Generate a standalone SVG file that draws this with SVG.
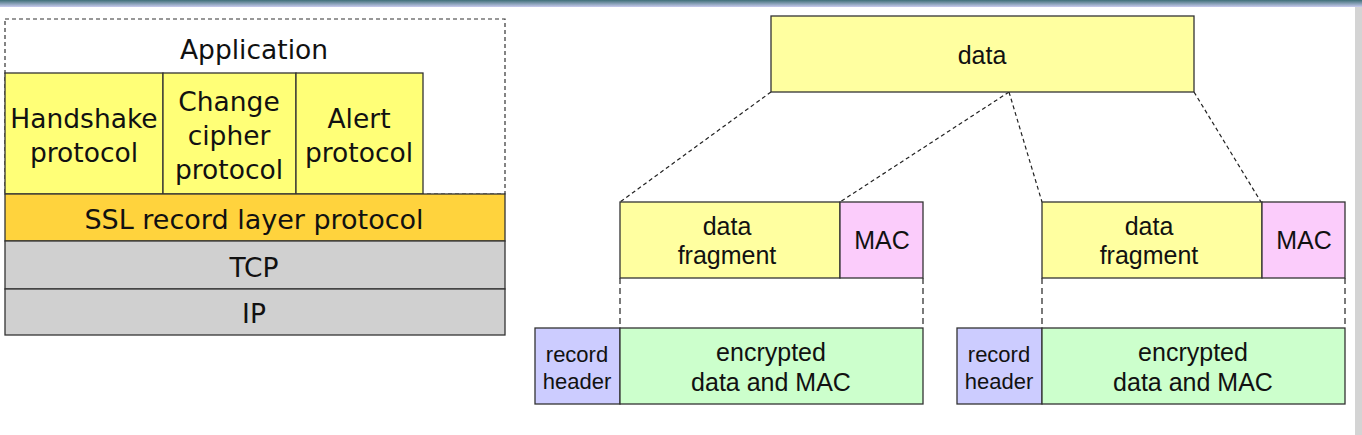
<svg xmlns="http://www.w3.org/2000/svg" width="1362" height="435" viewBox="0 0 1362 435">
<defs>
<linearGradient id="topbar" x1="0" y1="0" x2="0" y2="1">
<stop offset="0" stop-color="#3f6f78"/>
<stop offset="1" stop-color="#c8cbee"/>
</linearGradient>
<style>
.l{font-family:"DejaVu Sans",Verdana,sans-serif;font-size:26.5px;fill:#111;text-anchor:middle}
.r{font-family:"Liberation Sans",Arial,sans-serif;font-size:25px;fill:#111;text-anchor:middle}
.rs{font-family:"Liberation Sans",Arial,sans-serif;font-size:22px;fill:#111;text-anchor:middle}
.bx{stroke:#333;stroke-width:1.3}
.dash{stroke:#222;stroke-width:1.2;stroke-dasharray:4 3;fill:none}
.vdash{stroke:#222;stroke-width:1.2;stroke-dasharray:6 4;fill:none}
</style>
</defs>
<rect x="0" y="0" width="1362" height="435" fill="#fff"/>
<rect x="0" y="0" width="1362" height="7" fill="url(#topbar)"/>
<rect x="1355" y="7" width="7" height="428" fill="#d4d4d4"/>

<g id="stack">
<rect x="5" y="19" width="500" height="175" fill="none" stroke="#333" stroke-width="1.2" stroke-dasharray="4 3"/>
<text class="l" x="254" y="59">Application</text>
</g>
<g id="handshake">
<rect class="bx" x="5" y="73" width="158" height="121" fill="#ffff77"/>
<text class="l" x="84" y="128">Handshake</text>
<text class="l" x="84" y="162">protocol</text>
</g>
<g id="changecipher">
<rect class="bx" x="163" y="73" width="133" height="121" fill="#ffff77"/>
<text class="l" x="229" y="111">Change</text>
<text class="l" x="229" y="145">cipher</text>
<text class="l" x="229" y="179">protocol</text>
</g>
<g id="alert">
<rect class="bx" x="296" y="73" width="127" height="121" fill="#ffff77"/>
<text class="l" x="359" y="128">Alert</text>
<text class="l" x="359" y="162">protocol</text>
</g>
<g id="ssl">
<rect class="bx" x="5" y="194" width="500" height="47" fill="#ffd33d"/>
<text class="l" x="254" y="229" style="font-size:27px">SSL record layer protocol</text>
</g>
<g id="tcp">
<rect class="bx" x="5" y="241" width="500" height="48" fill="#d0d0d0"/>
<text class="l" x="254" y="277">TCP</text>
</g>
<g id="ip">
<rect class="bx" x="5" y="289" width="500" height="46" fill="#d0d0d0"/>
<text class="l" x="254" y="323">IP</text>
</g>

<g id="connectors">
<line class="dash" x1="771" y1="92" x2="620" y2="202"/>
<line class="dash" x1="1009" y1="92" x2="840" y2="202"/>
<line class="dash" x1="1009" y1="92" x2="1042" y2="202"/>
<line class="dash" x1="1194" y1="92" x2="1261" y2="202"/>
<line class="vdash" x1="620" y1="278" x2="620" y2="328"/>
<line class="vdash" x1="923" y1="278" x2="923" y2="328"/>
<line class="vdash" x1="1042" y1="278" x2="1042" y2="328"/>
<line class="vdash" x1="1345" y1="278" x2="1345" y2="328"/>
</g>

<g id="data">
<rect class="bx" x="771" y="16" width="423" height="76" fill="#ffffa0"/>
<text class="r" x="982" y="64">data</text>
</g>
<g id="fragment1">
<rect class="bx" x="620" y="202" width="220" height="76" fill="#ffffa0"/>
<text class="r" x="727" y="235">data</text>
<text class="r" x="727" y="264">fragment</text>
</g>
<g id="mac1">
<rect class="bx" x="840" y="202" width="83" height="76" fill="#fbccfb"/>
<text class="r" x="882" y="249">MAC</text>
</g>
<g id="fragment2">
<rect class="bx" x="1042" y="202" width="220" height="76" fill="#ffffa0"/>
<text class="r" x="1149" y="235">data</text>
<text class="r" x="1149" y="264">fragment</text>
</g>
<g id="mac2">
<rect class="bx" x="1262" y="202" width="83" height="76" fill="#fbccfb"/>
<text class="r" x="1304" y="249">MAC</text>
</g>
<g id="header1">
<rect class="bx" x="535" y="328" width="85" height="76" fill="#ccccff"/>
<text class="rs" x="577" y="362">record</text>
<text class="rs" x="577" y="389">header</text>
</g>
<g id="encrypted1">
<rect class="bx" x="620" y="328" width="303" height="76" fill="#ccffcc"/>
<text class="r" x="771" y="361">encrypted</text>
<text class="r" x="771" y="391">data and MAC</text>
</g>
<g id="header2">
<rect class="bx" x="957" y="328" width="85" height="76" fill="#ccccff"/>
<text class="rs" x="999" y="362">record</text>
<text class="rs" x="999" y="389">header</text>
</g>
<g id="encrypted2">
<rect class="bx" x="1042" y="328" width="303" height="76" fill="#ccffcc"/>
<text class="r" x="1193" y="361">encrypted</text>
<text class="r" x="1193" y="391">data and MAC</text>
</g>
</svg>
